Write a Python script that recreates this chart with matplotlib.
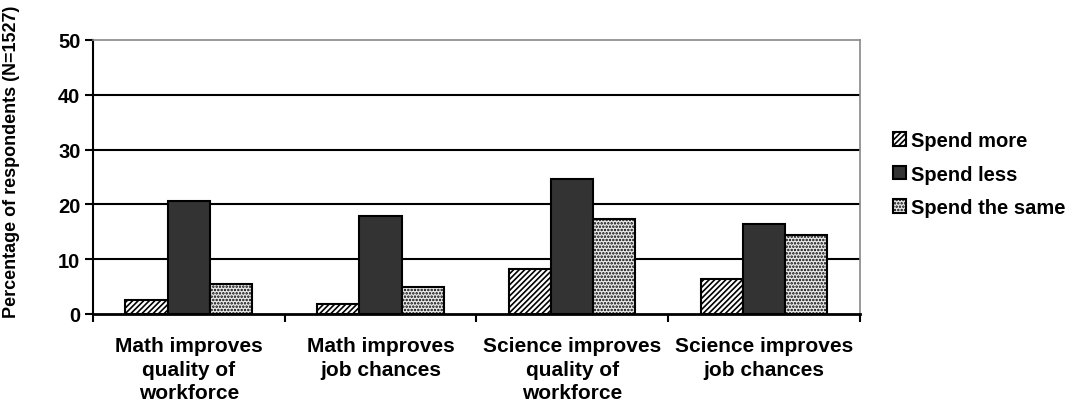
import numpy as np
import matplotlib
matplotlib.use('Agg')
import matplotlib.pyplot as plt

plt.rcParams['font.family'] = ['Liberation Sans', 'DejaVu Sans']
plt.rcParams['font.weight'] = 'bold'
plt.rcParams['hatch.linewidth'] = 1.2

categories = ['Math improves\nquality of\nworkforce', 'Math improves\njob chances',
              'Science improves\nquality of\nworkforce', 'Science improves\njob chances']
spend_more = [2.5, 1.8, 8.2, 6.4]
spend_less = [20.6, 17.9, 24.6, 16.4]
spend_same = [5.4, 4.9, 17.3, 14.4]
series_names = ['Spend more', 'Spend less', 'Spend the same']

fig = plt.figure(figsize=(10.8, 4.1), dpi=100)
ax = fig.add_axes([0.086, 0.232, 0.71, 0.668])

x = np.arange(len(categories))
w = 0.22
ax.bar(x - w, spend_more, w, facecolor='white', edgecolor='black', hatch='//////',
       linewidth=1.5, label=series_names[0], zorder=3)
ax.bar(x, spend_less, w, facecolor='#333333', edgecolor='black',
       linewidth=1.5, label=series_names[1], zorder=3)
ax.bar(x + w, spend_same, w, facecolor='#ebebeb', edgecolor='black', hatch='.....',
       linewidth=1.5, label=series_names[2], zorder=3)

ax.set_xlim(-0.5, 3.5)
ax.set_ylim(0, 50)
ax.set_yticks(range(0, 51, 10))
for yv in range(10, 50, 10):
    ax.axhline(yv, color='black', lw=1.5, zorder=1)

ax.set_xticks(x)
ax.set_xticklabels(categories, fontsize=15, fontweight='bold', linespacing=1.3)
ax.tick_params(axis='x', length=0, pad=16)
ax.set_xticks(np.arange(-0.5, 4, 1), minor=True)
ax.tick_params(axis='x', which='minor', length=6, width=1.5, direction='out')
ax.tick_params(axis='y', labelsize=14.5, length=6, width=1.5, direction='out', pad=3)
for lab in ax.get_yticklabels():
    lab.set_fontweight('bold')

ax.spines['left'].set_linewidth(1.5)
ax.spines['bottom'].set_linewidth(2)
ax.spines['top'].set_color('#888888')
ax.spines['right'].set_color('#888888')
ax.spines['top'].set_linewidth(1.2)
ax.spines['right'].set_linewidth(1.2)

ax.set_ylabel('Percentage of respondents (N=1527)', fontsize=13, fontweight='bold')
ax.yaxis.set_label_coords(-0.095, 0.56)

leg = fig.legend(*ax.get_legend_handles_labels(), loc='center left',
                 bbox_to_anchor=(0.81, 0.573), frameon=False,
                 fontsize=14.5, handlelength=0.65, handleheight=0.65, handletextpad=0.25,
                 labelspacing=0.72)
for t in leg.get_texts():
    t.set_fontweight('bold')

fig.savefig('out.png', dpi=100)
